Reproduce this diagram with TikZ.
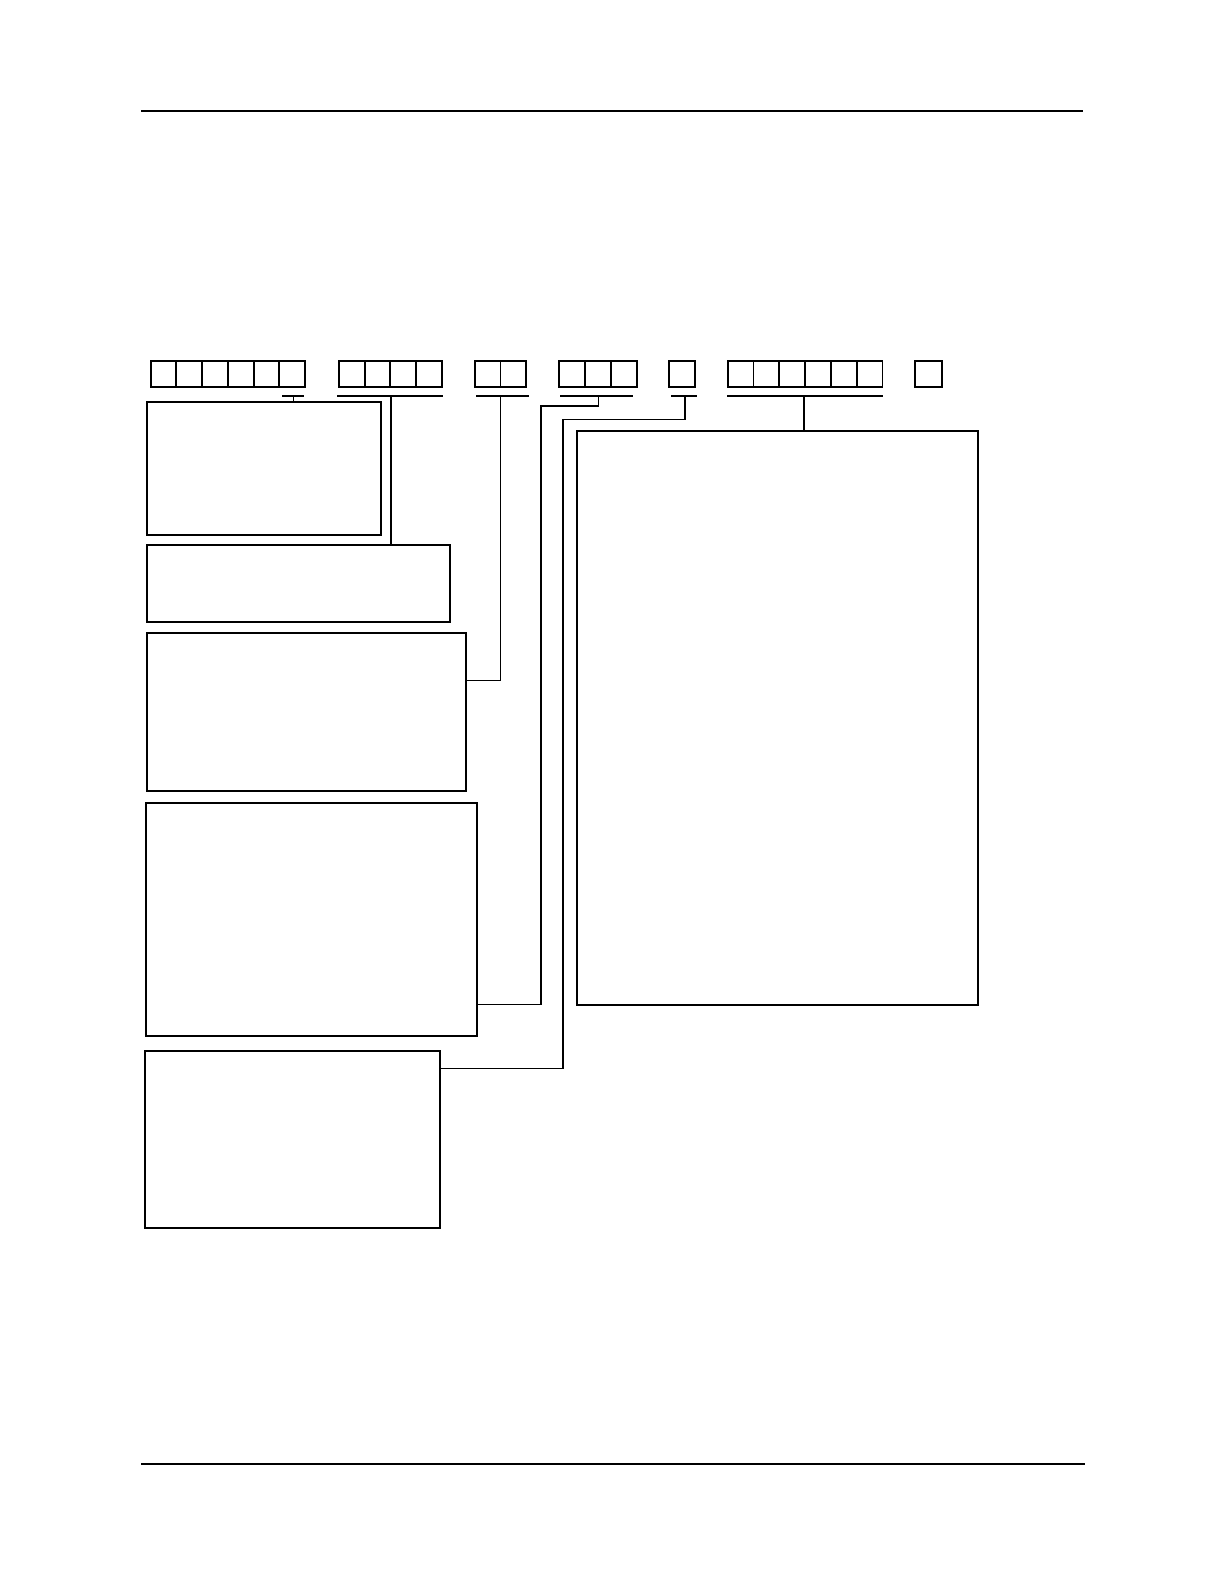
\documentclass[tikz,border=0pt]{standalone}
\usepackage{tikz}
\usepackage{xcolor}

\begin{document}
\begin{tikzpicture}[
		x=1pt, y=-1pt,
		cellnode/.style={rectangle, draw=black, line width=1.9pt, anchor=north west, inner sep=0pt, outer sep=0pt, minimum width=25.8pt, minimum height=26pt},
		infonode/.style={rectangle, draw=black, line width=1.7pt, anchor=north west, inner sep=0pt, outer sep=0pt},
		barline/.style={line width=1.8pt},
		wire/.style={line width=1.3pt},
	]
		\useasboundingbox (0,0) rectangle (1224,1584);

		% page rules
		\draw[line width=1.2pt] (141,111) -- (1083,111);
		\draw[line width=1.2pt] (141,1464) -- (1085,1464);

		% code cells
		\foreach \i in {0,...,5} \node[cellnode] (ga\i) at (150.7+25.7*\i,360.7) {};
		\foreach \i in {0,...,3} \node[cellnode] (gb\i) at (338.7+25.9*\i,360.7) {};
		\foreach \i in {0,...,1} \node[cellnode] (gc\i) at (474.7+25.8*\i,360.7) {};
		\foreach \i in {0,...,2} \node[cellnode] (gd\i) at (558.7+26.1*\i,360.7) {};
		\node[cellnode] (ge0) at (669.3,360.7) {};
		\foreach \i in {0,...,5} \node[cellnode] (gf\i) at (727.7+25.8*\i,360.7) {};
		\node[cellnode, minimum width=26.7pt] (gg0) at (915,360.7) {};

		% description boxes
		\node[infonode, minimum width=233.7pt, minimum height=133pt] (year)   at (147.3,401.7) {};
		\node[infonode, minimum width=302.7pt, minimum height=76.7pt] (place)  at (147.3,545) {};
		\node[infonode, minimum width=318.4pt, minimum height=158pt] (kind)   at (147.3,632.7) {};
		\node[infonode, minimum width=331.3pt, minimum height=233pt] (group)  at (145.7,802.7) {};
		\node[infonode, minimum width=294.7pt, minimum height=176.7pt] (flag)   at (145.3,1051) {};
		\node[infonode, minimum width=401.3pt, minimum height=574.3pt] (serial) at (576.7,431) {};

		% underlines
		\draw[barline] (282.3,395.7) -- (303.7,395.7);
		\draw[barline] (337.3,395.7) -- (442.7,395.7);
		\draw[barline] (476,395.7) -- (528.7,395.7);
		\draw[barline] (560,395.7) -- (632.7,395.7);
		\draw[barline] (671,395.7) -- (696.7,395.7);
		\draw[barline] (727.3,395.7) -- (883,395.7);
		\coordinate (ua) at (293.3,395.7);
		\coordinate (ub) at (391,395.7);
		\coordinate (uc) at (500.5,395.7);
		\coordinate (ud) at (598.7,395.7);
		\coordinate (ue) at (685,395.7);
		\coordinate (uf) at (804,395.7);

		% bends
		\coordinate (kc) at (500.5,680.7);
		\coordinate (kd1) at (541,406);
		\coordinate (kd2) at (541,1004.7);
		\coordinate (ke1) at (563,419.3);
		\coordinate (ke2) at (563,1068.3);

		% lines
		\draw[wire] (ua) -- (ua |- year.north);
		\draw[wire] (ub) -- (ub |- place.north);
		\draw[wire] (uc) -- (kc) -- (kc -| kind.east);
		\draw[wire] (ud) |- (kd1) -- (kd2) -- (kd2 -| group.east);
		\draw[wire] (ue) |- (ke1) -- (ke2) -- (ke2 -| flag.east);
		\draw[wire] (uf) -- (uf |- serial.north);
	\end{tikzpicture}
\end{document}
